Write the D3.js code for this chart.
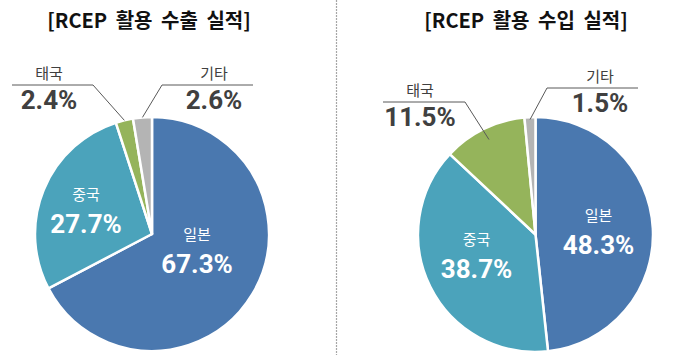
<!DOCTYPE html>
<html><head><meta charset="utf-8">
<script src="https://cdn.jsdelivr.net/npm/d3@7"></script>
<style>
html,body{margin:0;padding:0;background:#fff;}
svg{display:block;}
</style></head>
<body>
<svg id="chart" width="680" height="358"></svg>
<script>
// ---- data ----
const categories = ["일본", "중국", "태국", "기타"];
const exportValues = [67.3, 27.7, 2.4, 2.6];
const importValues = [48.3, 38.7, 11.5, 1.5];
const titles = ["[RCEP 활용 수출 실적]", "[RCEP 활용 수입 실적]"];
const colors = ["#4a78af", "#4ba3bb", "#95b45b", "#b4b4b4"];

// ---- layout ----
const svg = d3.select("#chart");
const panels = [
  { values: exportValues, title: titles[0], cx: 152, cy: 234, r: 117, titleX: 149,
    inner: { 0: [45, 18], 1: [-66, -22] },
    outer: { 2: { rr: 1.0, elbow: [93, 85], lineEnd: 12, textX: 49 },
             3: { rr: 1.0, elbow: [162, 85], lineEnd: 253, textX: 214 } } },
  { values: importValues, title: titles[1], cx: 535.5, cy: 234.5, r: 117.5, titleX: 526,
    inner: { 0: [63, -2], 1: [-59, 22] },
    outer: { 2: { rr: 0.9, elbow: [465, 102], lineEnd: 383, textX: 420 },
             3: { rr: 0.98, elbow: [547, 88], lineEnd: 638, textX: 600 } } }
];

const fontKR = "'Noto Sans CJK KR', 'Noto Sans', sans-serif";
const fontNum = "Roboto, 'Noto Sans', sans-serif";

// divider
svg.append("line")
  .attr("x1", 336.5).attr("x2", 336.5).attr("y1", 0).attr("y2", 355)
  .attr("stroke", "#a6a6a6").attr("stroke-width", 1.2)
  .attr("stroke-dasharray", "2,1");

const pie = d3.pie().sort(null).value(d => d.v);

panels.forEach(p => {
  const data = categories.map((c, i) => ({ c, v: p.values[i], i }));
  const arcs = pie(data);
  const arc = d3.arc().innerRadius(0).outerRadius(p.r);
  const g = svg.append("g").attr("transform", `translate(${p.cx},${p.cy})`);

  g.selectAll("path").data(arcs).join("path")
    .attr("d", arc)
    .attr("fill", d => colors[d.data.i])
    .attr("stroke", "#fff").attr("stroke-width", 2.5)
    .attr("stroke-linejoin", "round");

  // title
  svg.append("text")
    .attr("x", p.titleX).attr("y", 28)
    .attr("text-anchor", "middle")
    .attr("font-family", fontKR).attr("font-weight", 700)
    .attr("font-size", 20).attr("fill", "#111")
    .attr("word-spacing", 4)
    .text(p.title);

  // inner labels
  arcs.forEach(a => {
    const off = p.inner[a.data.i];
    if (!off) return;
    const t = g.append("g").attr("transform", `translate(${off[0]},${off[1]})`);
    t.append("text").attr("x", 0).attr("y", -12)
      .attr("text-anchor", "middle").attr("font-family", fontKR)
      .attr("font-size", 15).attr("fill", "#fff")
      .text(a.data.c);
    t.append("text").attr("x", 0).attr("y", 21)
      .attr("text-anchor", "middle").attr("font-family", fontNum)
      .attr("font-weight", 700).attr("font-size", 26).attr("fill", "#fff")
      .text(a.data.v.toFixed(1) + "%");
  });

  // outer labels with leader lines
  arcs.forEach(a => {
    const o = p.outer[a.data.i];
    if (!o) return;
    const mid = (a.startAngle + a.endAngle) / 2;
    const px = p.cx + Math.sin(mid) * p.r * o.rr;
    const py = p.cy - Math.cos(mid) * p.r * o.rr;
    svg.append("polyline")
      .attr("points", `${px},${py} ${o.elbow[0]},${o.elbow[1]} ${o.lineEnd},${o.elbow[1]}`)
      .attr("fill", "none").attr("stroke", "#595959").attr("stroke-width", 1);
    svg.append("text").attr("x", o.textX).attr("y", o.elbow[1] - 6)
      .attr("text-anchor", "middle").attr("font-family", fontKR)
      .attr("font-size", 15).attr("fill", "#404040")
      .text(a.data.c);
    svg.append("text").attr("x", o.textX).attr("y", o.elbow[1] + 24)
      .attr("text-anchor", "middle").attr("font-family", fontNum)
      .attr("font-weight", 700).attr("font-size", 26).attr("fill", "#404040")
      .text(a.data.v.toFixed(1) + "%");
  });
});
</script>
</body></html>
